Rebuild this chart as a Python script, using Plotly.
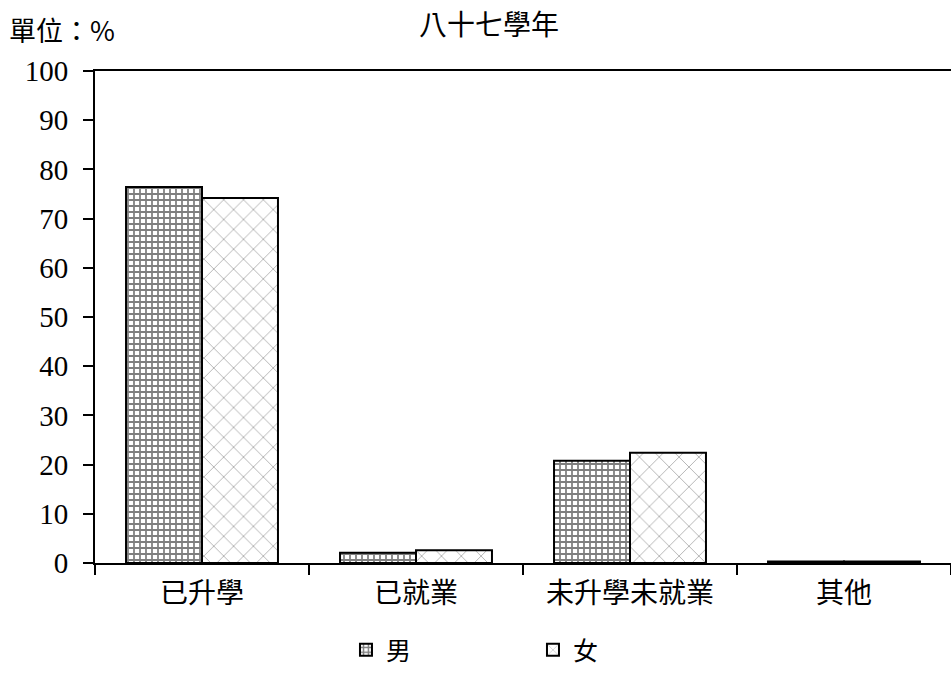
import plotly.graph_objects as go

categories = ["已升學", "已就業", "未升學未就業", "其他"]
male = [76.4, 2.1, 20.8, 0.3]
female = [74.2, 2.6, 22.4, 0.3]
yticks = [0, 10, 20, 30, 40, 50, 60, 70, 80, 90, 100]

FONT = "Liberation Serif, Noto Sans CJK TC, serif"
CJK = "Noto Sans CJK TC, Liberation Serif, serif"

fig = go.Figure()
fig.add_trace(go.Bar(
    x=categories, y=male, name="男",
    marker=dict(color="white", line=dict(color="black", width=2),
                pattern=dict(shape="+", size=6, solidity=0.5, fgcolor="black", bgcolor="white")),
))
fig.add_trace(go.Bar(
    x=categories, y=female, name="女",
    marker=dict(color="white", line=dict(color="black", width=2),
                pattern=dict(shape="x", size=14, solidity=0.08, fgcolor="black", bgcolor="white")),
))

fig.update_layout(
    width=951, height=676,
    margin=dict(l=95, r=0, t=71, b=113),
    paper_bgcolor="white", plot_bgcolor="white",
    barmode="group", bargap=0.29, bargroupgap=0,
    font=dict(family=FONT, size=22, color="black"),
    showlegend=True,
    legend=dict(orientation="h", x=0.2932, xanchor="left", y=-0.177, yanchor="middle",
                entrywidth=142, entrywidthmode="pixels",
                font=dict(size=25, family=CJK)),
    xaxis=dict(showline=True, linecolor="black", linewidth=2, mirror=True,
               ticks="outside", tickson="boundaries", ticklen=10, tickwidth=2, tickcolor="black",
               ticklabelstandoff=4,
               showgrid=False, tickfont=dict(size=28, family=CJK)),
    yaxis=dict(range=[0, 100], tickvals=yticks, showline=True, linecolor="black", linewidth=2,
               ticks="outside", ticklen=10, tickwidth=2, tickcolor="black", ticklabelstandoff=9,
               showgrid=False, zeroline=False, tickfont=dict(size=29, family=FONT)),
    annotations=[
        dict(text="八十七學年", xref="paper", yref="paper", x=0.4603, y=1.0985,
             xanchor="center", yanchor="middle", showarrow=False, borderpad=0,
             font=dict(size=28, family=CJK)),
        dict(text="單位：%", xref="paper", yref="paper", x=-0.1016, y=1.085,
             xanchor="left", yanchor="middle", showarrow=False, borderpad=0,
             font=dict(size=27, family=CJK)),
    ],
)

fig.write_html("out.html", config={"displayModeBar": False},
               post_script="document.body.style.margin='0px';")
